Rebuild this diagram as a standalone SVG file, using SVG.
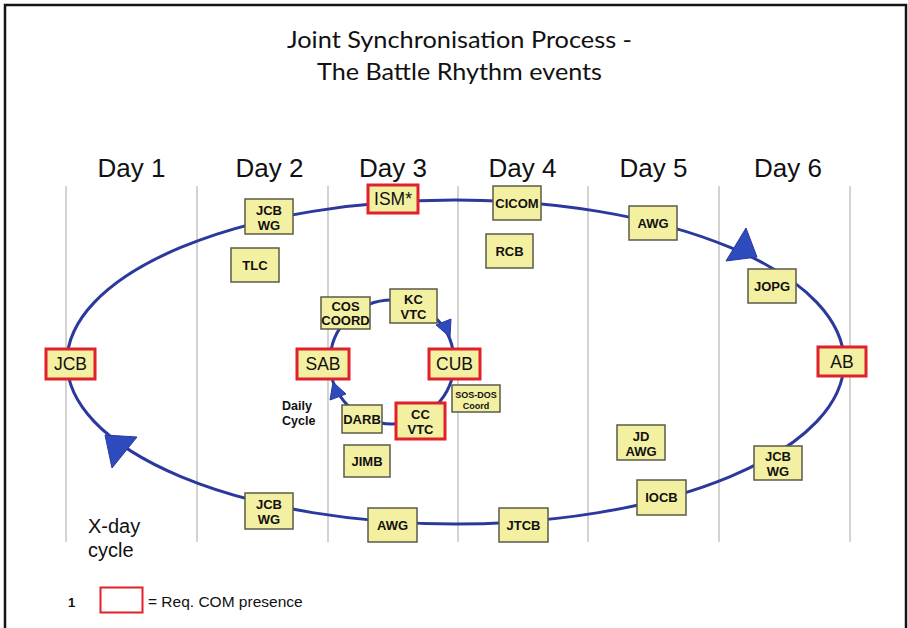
<svg xmlns="http://www.w3.org/2000/svg" width="908" height="628" viewBox="0 0 908 628">
  <defs>
    <style>
      .frame { fill: #ffffff; stroke: #141414; stroke-width: 2.5; }
      .col { stroke: #c4c4c4; stroke-width: 1.5; }
      .day { font-family: "Liberation Sans", Arial, sans-serif; font-size: 26px; fill: #111; text-anchor: middle; }
      .title { font-family: Lato, "Open Sans", sans-serif; font-size: 23px; fill: #111; text-anchor: middle; }
      .loop { fill: none; stroke: #2b399c; stroke-width: 3; }
      .head { fill: #2d4bbd; stroke: #2b399c; stroke-width: 1; stroke-linejoin: round; }
      .n { fill: #f4f0a2; stroke: #5a5a48; stroke-width: 1.5; }
      .r { fill: #f4f0a2; stroke: #e0202a; stroke-width: 3; }
      .b { font-family: "Liberation Sans", Arial, sans-serif; font-size: 13px; font-weight: bold; fill: #111; text-anchor: middle; }
      .s { font-family: "Liberation Sans", Arial, sans-serif; font-size: 9px; font-weight: bold; fill: #111; text-anchor: middle; }
      .t { font-family: "Liberation Sans", Arial, sans-serif; font-size: 17.5px; fill: #111; text-anchor: middle; }
      .lbl { font-family: "Liberation Sans", Arial, sans-serif; fill: #111; }
    </style>
  </defs>

  <!-- page frame -->
  <rect class="frame" x="5" y="5" width="901" height="640"/>

  <!-- title -->
  <text class="title" x="459.5" y="48" textLength="345" lengthAdjust="spacingAndGlyphs">Joint Synchronisation Process -</text>
  <text class="title" x="459.5" y="80" textLength="285" lengthAdjust="spacingAndGlyphs">The Battle Rhythm events</text>

  <!-- day columns -->
  <g id="columns">
    <line class="col" x1="66" y1="186" x2="66" y2="542"/>
    <line class="col" x1="197" y1="186" x2="197" y2="542"/>
    <line class="col" x1="328" y1="186" x2="328" y2="542"/>
    <line class="col" x1="458" y1="186" x2="458" y2="542"/>
    <line class="col" x1="588" y1="186" x2="588" y2="542"/>
    <line class="col" x1="719" y1="186" x2="719" y2="542"/>
    <line class="col" x1="850" y1="186" x2="850" y2="542"/>
  </g>
  <g id="days">
    <text class="day" x="131.5" y="177">Day 1</text>
    <text class="day" x="269.5" y="177">Day 2</text>
    <text class="day" x="393" y="177">Day 3</text>
    <text class="day" x="522.5" y="177">Day 4</text>
    <text class="day" x="653.5" y="177">Day 5</text>
    <text class="day" x="788" y="177">Day 6</text>
  </g>

  <!-- cycle connectors -->
  <g id="connectors">
    <ellipse class="loop" cx="455.5" cy="362" rx="388.5" ry="162"/>
    <circle class="loop" cx="392" cy="362" r="62"/>
    <polygon class="head" points="746,228 726,261 757,257"/>
    <polygon class="head" points="105,435 137,437 112,468"/>
    <polygon class="head" points="450,337 451,319 436,325"/>
    <polygon class="head" points="333,382 330,400 346,394"/>
  </g>

  <!-- X-day cycle events -->
  <g id="jcb-left"><rect class="r" x="46" y="349" width="49" height="30"/><text class="t" x="70.5" y="370.3">JCB</text></g>
  <g id="jcbwg-d2-top"><rect class="n" x="245" y="199" width="48" height="35"/><text class="b" x="269" y="214.5">JCB</text><text class="b" x="269" y="229.5">WG</text></g>
  <g id="tlc"><rect class="n" x="231" y="248" width="48" height="34"/><text class="b" x="255" y="269.6">TLC</text></g>
  <g id="ism"><rect class="r" x="368" y="185" width="50" height="28"/><text class="t" x="393" y="205.3">ISM*</text></g>
  <g id="cicom"><rect class="n" x="493" y="186" width="48" height="34"/><text class="b" x="517" y="207.6">CICOM</text></g>
  <g id="rcb"><rect class="n" x="486" y="234" width="47" height="34"/><text class="b" x="509.5" y="255.6">RCB</text></g>
  <g id="awg-d5"><rect class="n" x="629" y="206" width="48" height="34"/><text class="b" x="653" y="227.6">AWG</text></g>
  <g id="jopg"><rect class="n" x="748" y="269" width="48" height="34"/><text class="b" x="772" y="290.6">JOPG</text></g>
  <g id="ab"><rect class="r" x="818" y="347" width="48" height="29"/><text class="t" x="842" y="367.8">AB</text></g>
  <g id="jcbwg-d6"><rect class="n" x="754" y="446" width="48" height="34"/><text class="b" x="778" y="461">JCB</text><text class="b" x="778" y="476">WG</text></g>
  <g id="jdawg"><rect class="n" x="617" y="425" width="48" height="35"/><text class="b" x="641" y="440.5">JD</text><text class="b" x="641" y="455.5">AWG</text></g>
  <g id="iocb"><rect class="n" x="637" y="480" width="49" height="35"/><text class="b" x="661.5" y="502.1">IOCB</text></g>
  <g id="jtcb"><rect class="n" x="499" y="508" width="49" height="34"/><text class="b" x="523.5" y="529.6">JTCB</text></g>
  <g id="awg-d3"><rect class="n" x="368" y="508" width="49" height="34"/><text class="b" x="392.5" y="529.6">AWG</text></g>
  <g id="jcbwg-d2-bottom"><rect class="n" x="245" y="493" width="48" height="36"/><text class="b" x="269" y="509">JCB</text><text class="b" x="269" y="524">WG</text></g>

  <!-- daily cycle events -->
  <g id="coscoord"><rect class="n" x="321" y="297" width="49" height="32"/><text class="b" x="345.5" y="311">COS</text><text class="b" x="345.5" y="325">COORD</text></g>
  <g id="kcvtc"><rect class="n" x="390" y="289" width="47" height="34"/><text class="b" x="413.5" y="304">KC</text><text class="b" x="413.5" y="319">VTC</text></g>
  <g id="sab"><rect class="r" x="297" y="349" width="52" height="30"/><text class="t" x="323" y="370.3">SAB</text></g>
  <g id="cub"><rect class="r" x="429" y="349" width="51" height="30"/><text class="t" x="454.5" y="370.3">CUB</text></g>
  <g id="sosdos"><rect class="n" x="452" y="385" width="48" height="27"/><text class="s" x="476" y="397.5">SOS-DOS</text><text class="s" x="476" y="408.5">Coord</text></g>
  <g id="darb"><rect class="n" x="342" y="405" width="40" height="28"/><text class="b" x="362" y="423.6">DARB</text></g>
  <g id="ccvtc"><rect class="r" x="396" y="403" width="49" height="36"/><text class="b" x="420.5" y="418.5">CC</text><text class="b" x="420.5" y="433.5">VTC</text></g>
  <g id="jimb"><rect class="n" x="344" y="445" width="46" height="32"/><text class="b" x="367" y="465.6">JIMB</text></g>

  <!-- cycle captions -->
  <text class="lbl" x="282" y="410" font-size="12.5" font-weight="bold">Daily</text>
  <text class="lbl" x="282" y="425" font-size="12.5" font-weight="bold">Cycle</text>
  <text class="lbl" x="88" y="533" font-size="20">X-day</text>
  <text class="lbl" x="88" y="557" font-size="20">cycle</text>

  <!-- legend -->
  <g id="legend">
    <text class="lbl" x="68" y="607" font-size="13" font-weight="bold">1</text>
    <rect x="100.5" y="587.5" width="42" height="25" fill="#ffffff" stroke="#e0202a" stroke-width="2"/>
    <text class="lbl" x="148" y="607" font-size="15.5">= Req. COM presence</text>
  </g>
</svg>
